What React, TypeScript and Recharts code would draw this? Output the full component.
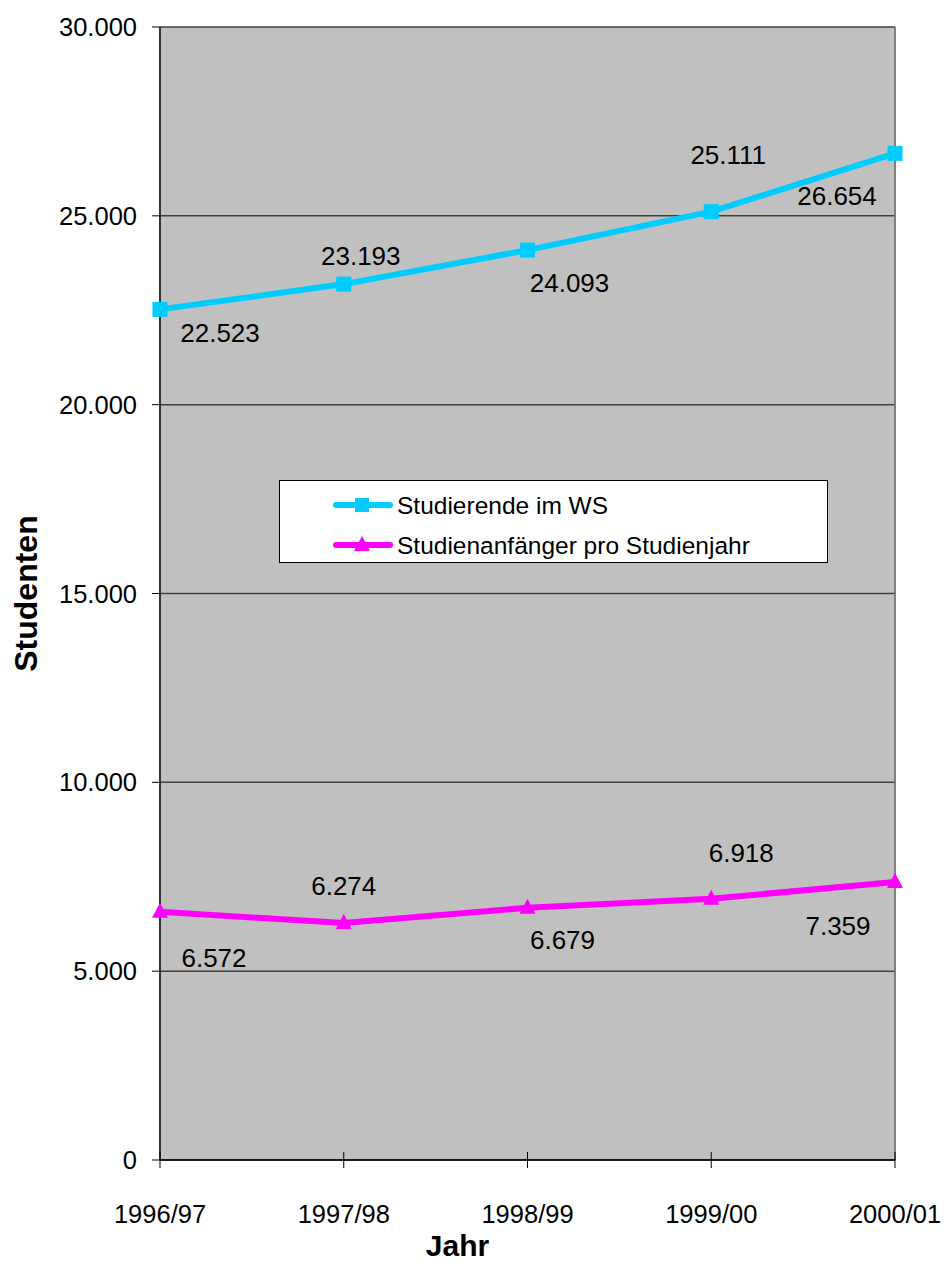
import React from "react";
import {
  CartesianGrid,
  Label,
  LabelList,
  Legend,
  Line,
  LineChart,
  ReferenceLine,
  XAxis,
  YAxis,
} from "recharts";

// Studierende / Studienanfänger 1996/97 – 2000/01
const years = ["1996/97", "1997/98", "1998/99", "1999/00", "2000/01"];
const studierende = [22523, 23193, 24093, 25111, 26654];
const anfaenger = [6572, 6274, 6679, 6918, 7359];
const yTicks = [0, 5000, 10000, 15000, 20000, 25000, 30000];

const data = years.map((jahr, i) => ({
  jahr,
  studierende: studierende[i],
  anfaenger: anfaenger[i],
}));

const CYAN = "#00CCFF";
const MAGENTA = "#FF00FF";
const FONT = "'Liberation Sans', Arial, sans-serif";
const TICK = 8;
const X_MARGIN = 37;

// label placement like the original (Excel labels moved by hand)
const cyanLabelOffsets = [
  [60, 24],
  [17, -28],
  [42, 33],
  [17, -57],
  [-58, 43],
];
const magentaLabelOffsets = [
  [54, 46],
  [0, -37],
  [35, 32],
  [30, -46],
  [-57, 44],
];

const fmt = (v: number) => String(v).replace(/\B(?=(\d{3})+(?!\d))/g, ".");

function makeLabel(offsets: number[][]) {
  return (props: any) => {
    const { x, y, value, index } = props;
    const [dx, dy] = offsets[index] || [0, 0];
    return (
      <text
        x={x + dx}
        y={y + dy}
        textAnchor="middle"
        dominantBaseline="central"
        fontSize={26}
        fontFamily={FONT}
        fill="#000"
      >
        {fmt(value)}
      </text>
    );
  };
}

function XTick(props: any) {
  const { x, y, payload } = props;
  const axisY = y - TICK - X_MARGIN;
  return (
    <g>
      <line x1={x} x2={x} y1={axisY - TICK} y2={axisY} stroke="#000" />
      <text
        x={x}
        y={y}
        dy="0.71em"
        textAnchor="middle"
        fontSize={25.5}
        fontFamily={FONT}
        fill="#000"
      >
        {payload.value}
      </text>
    </g>
  );
}

function SquareDot(props: any) {
  const { cx, cy, index } = props;
  return <rect key={`sq-${index}`} x={cx - 7.5} y={cy - 7.5} width={15} height={15} fill={CYAN} />;
}

function TriangleDot(props: any) {
  const { cx, cy, index } = props;
  return (
    <path
      key={`tri-${index}`}
      d={`M${cx},${cy - 9} L${cx + 8},${cy + 6} L${cx - 8},${cy + 6} Z`}
      fill={MAGENTA}
    />
  );
}

function LegendBox() {
  const rows = [
    { name: "Studierende im WS", color: CYAN, shape: "square" },
    { name: "Studienanfänger pro Studienjahr", color: MAGENTA, shape: "triangle" },
  ];
  return (
    <svg width={549} height={83} style={{ display: "block" }}>
      <rect x={0.5} y={0.5} width={548} height={82} fill="#fff" stroke="#000" />
      {rows.map((r, i) => {
        const cy = 25 + i * 40;
        return (
          <g key={r.name}>
            <line x1={57} x2={111} y1={cy} y2={cy} stroke={r.color} strokeWidth={6} strokeLinecap="round" />
            {r.shape === "square" ? (
              <rect x={76} y={cy - 7} width={14} height={14} fill={r.color} />
            ) : (
              <path d={`M83,${cy - 9} L91,${cy + 6} L75,${cy + 6} Z`} fill={r.color} />
            )}
            <text x={118} y={cy} dominantBaseline="central" fontSize={24.5} fontFamily={FONT} fill="#000">
              {r.name}
            </text>
          </g>
        );
      })}
    </svg>
  );
}

export default function App() {
  return (
    <div
      style={{
        position: "absolute",
        left: 0,
        top: 0,
        width: 944,
        height: 1286,
        background: "#fff",
        fontFamily: FONT,
      }}
    >
      <LineChart
        width={944}
        height={1286}
        data={data}
        margin={{ top: 27, right: 49, bottom: 0, left: 0 }}
      >
        <CartesianGrid vertical={false} fill="#C0C0C0" stroke="#404040" strokeWidth={1.5} />
        <XAxis
          dataKey="jahr"
          height={126}
          tickSize={TICK}
          tickMargin={X_MARGIN}
          axisLine={{ stroke: "#000", strokeWidth: 1.5 }}
          tickLine={{ stroke: "#000" }}
          tick={<XTick />}
          interval={0}
        >
          <Label
            content={(p: any) => {
              const vb = p.viewBox;
              return (
                <text
                  x={vb.x + vb.width / 2 - 70}
                  y={vb.y + vb.height - 30}
                  textAnchor="middle"
                  fontSize={30}
                  fontWeight="bold"
                  fontFamily={FONT}
                  fill="#000"
                >
                  Jahr
                </text>
              );
            }}
          />
        </XAxis>
        <YAxis
          width={160}
          domain={[0, 30000]}
          ticks={yTicks}
          interval={0}
          tickFormatter={fmt}
          tickSize={TICK}
          tickMargin={15}
          axisLine={{ stroke: "#333", strokeWidth: 2 }}
          tickLine={{ stroke: "#000" }}
          tick={{ fontSize: 25.5, fill: "#000", fontFamily: FONT }}
        >
          <Label
            content={(p: any) => {
              const vb = p.viewBox;
              const cx = vb.x + 26;
              const cy = vb.y + vb.height / 2;
              return (
                <text
                  x={cx}
                  y={cy}
                  transform={`rotate(-90 ${cx} ${cy})`}
                  textAnchor="middle"
                  dominantBaseline="central"
                  fontSize={32}
                  fontWeight="bold"
                  fontFamily={FONT}
                  fill="#000"
                >
                  Studenten
                </text>
              );
            }}
          />
        </YAxis>
        <ReferenceLine x="2000/01" stroke="#808080" strokeWidth={2} />
        <Legend
          layout="vertical"
          align="center"
          verticalAlign="middle"
          wrapperStyle={{ left: 279, top: 480, width: 549, height: 83 }}
          content={() => <LegendBox />}
        />
        <Line
          type="linear"
          dataKey="studierende"
          name="Studierende im WS"
          stroke={CYAN}
          strokeWidth={6}
          dot={(p: any) => <SquareDot {...p} />}
          activeDot={false}
          isAnimationActive={false}
        >
          <LabelList dataKey="studierende" content={makeLabel(cyanLabelOffsets)} />
        </Line>
        <Line
          type="linear"
          dataKey="anfaenger"
          name="Studienanfänger pro Studienjahr"
          stroke={MAGENTA}
          strokeWidth={6}
          dot={(p: any) => <TriangleDot {...p} />}
          activeDot={false}
          isAnimationActive={false}
        >
          <LabelList dataKey="anfaenger" content={makeLabel(magentaLabelOffsets)} />
        </Line>
      </LineChart>
    </div>
  );
}
